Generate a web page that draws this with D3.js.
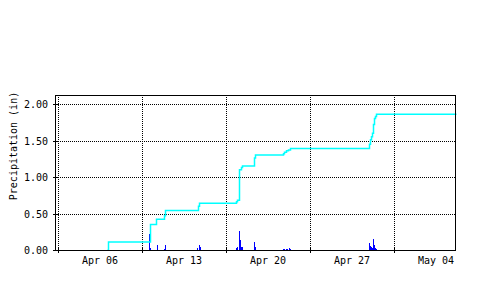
<!DOCTYPE html>
<html>
<head>
<meta charset="utf-8">
<script src="https://cdn.jsdelivr.net/npm/d3@7"></script>
<style>
  body { margin: 0; background: #fff; }
  text { font-family: "DejaVu Sans Mono", monospace; font-size: 10px; fill: #000; }
</style>
</head>
<body>
<div class="chart"></div>
<script>
// hourly (2h bins) precipitation bars, inches
const barTimes = [
    '2014-04-06T16:00', '2014-04-10T02:00', '2014-04-10T04:00', '2014-04-10T18:00',
    '2014-04-11T08:00', '2014-04-11T10:00', '2014-04-14T02:00', '2014-04-14T06:00',
    '2014-04-14T08:00', '2014-04-17T08:00', '2014-04-17T10:00', '2014-04-17T14:00',
    '2014-04-17T16:00', '2014-04-17T18:00', '2014-04-17T20:00', '2014-04-18T20:00',
    '2014-04-18T22:00', '2014-04-21T06:00', '2014-04-21T08:00', '2014-04-21T12:00',
    '2014-04-21T14:00', '2014-04-21T18:00', '2014-04-21T20:00', '2014-04-28T10:00',
    '2014-04-28T12:00', '2014-04-28T14:00', '2014-04-28T16:00', '2014-04-28T18:00',
    '2014-04-28T20:00', '2014-04-28T22:00', '2014-04-29T00:00'
];
const barValues = [
    0.055, 0.22, 0.03, 0.07,
    0.02, 0.07, 0.025, 0.07,
    0.04, 0.03, 0.04, 0.26,
    0.14, 0.045, 0.045, 0.11,
    0.045, 0.02, 0.01, 0.02,
    0.01, 0.03, 0.015, 0.10,
    0.06, 0.045, 0.03, 0.15,
    0.07, 0.03, 0.015
];

// cumulative precipitation, inches
const totalTimes = [
    '2014-04-06T14:00', '2014-04-06T16:00', '2014-04-10T04:00', '2014-04-10T16:00',
    '2014-04-11T08:00', '2014-04-11T10:00', '2014-04-14T04:00', '2014-04-14T06:00',
    '2014-04-17T08:00', '2014-04-17T10:00', '2014-04-17T14:00', '2014-04-17T18:00',
    '2014-04-17T20:00', '2014-04-18T20:00', '2014-04-18T22:00', '2014-04-21T06:00',
    '2014-04-21T08:00', '2014-04-21T12:00', '2014-04-21T16:00', '2014-04-21T20:00',
    '2014-04-28T10:00', '2014-04-28T12:00', '2014-04-28T14:00', '2014-04-28T16:00',
    '2014-04-28T18:00', '2014-04-28T20:00', '2014-04-28T22:00', '2014-04-29T00:00',
    '2014-05-05T16:00'
];
const totalValues = [
    0, 0.11, 0.35, 0.42,
    0.47, 0.54, 0.60, 0.64,
    0.66, 0.68, 1.10, 1.13,
    1.15, 1.26, 1.30, 1.32,
    1.34, 1.36, 1.37, 1.39,
    1.45, 1.51, 1.55, 1.60,
    1.72, 1.80, 1.83, 1.86,
    1.86
];

const xLabels = ['Apr 06', 'Apr 13', 'Apr 20', 'Apr 27', 'May 04'];
const xLabelDates = ['2014-04-06T00:00', '2014-04-13T00:00', '2014-04-20T00:00', '2014-04-27T00:00', '2014-05-04T00:00'];
const yTicks = [0, 0.5, 1.0, 1.5, 2.0];
const timeStart = '2014-04-02T08:00', timeEnd = '2014-05-05T16:00';

const parse = d3.timeParse('%Y-%m-%dT%H:%M');
const bars = barTimes.map((t, i) => ({t: parse(t), v: barValues[i]}));
const totals = totalTimes.map((t, i) => ({t: parse(t), v: totalValues[i]}));

const width = 500, height = 288;
const plot = {left: 56, right: 456, top: 95, bottom: 250};

const svg = d3.select('.chart')
    .append('svg')
    .attr('width', width)
    .attr('height', height);

const xScale = d3.scaleTime()
    .domain([parse(timeStart), parse(timeEnd)])
    .range([plot.left, plot.right]);
const yScale = d3.scaleLinear()
    .domain([0, (plot.bottom - plot.top) / 73])
    .range([plot.bottom, plot.top]);

// grid lines sit half a week before each label
const gridDates = xLabelDates.map(d => d3.timeHour.offset(parse(d), -84));

const grid = svg.append('g')
    .attr('stroke', '#000')
    .attr('stroke-dasharray', '1,1')
    .attr('shape-rendering', 'crispEdges');

grid.selectAll('.hgrid')
    .data(yTicks.filter(d => d > 0))
    .enter()
    .append('line')
    .attr('class', 'hgrid')
    .attr('x1', plot.left)
    .attr('x2', plot.right - 1)
    .attr('y1', d => Math.round(yScale(d)) + 0.5)
    .attr('y2', d => Math.round(yScale(d)) + 0.5);

grid.selectAll('.vgrid')
    .data(gridDates)
    .enter()
    .append('line')
    .attr('class', 'vgrid')
    .attr('x1', d => Math.round(xScale(d)) + 0.5)
    .attr('x2', d => Math.round(xScale(d)) + 0.5)
    .attr('y1', plot.top)
    .attr('y2', plot.bottom);

svg.selectAll('.bar')
    .data(bars)
    .enter()
    .append('rect')
    .attr('class', 'bar')
    .attr('fill', '#0000ff')
    .attr('shape-rendering', 'crispEdges')
    .attr('x', d => xScale(d.t))
    .attr('width', d => xScale(d3.timeHour.offset(d.t, 2)) - xScale(d.t))
    .attr('y', d => yScale(d.v))
    .attr('height', d => plot.bottom - yScale(d.v));

const line = d3.line()
    .x(d => xScale(d.t) + 0.5)
    .y(d => yScale(d.v))
    .curve(d3.curveStepAfter);

svg.append('path')
    .datum(totals)
    .attr('fill', 'none')
    .attr('stroke', '#00ffff')
    .attr('stroke-width', 1.5)
    .attr('d', line);

// frame
const frame = svg.append('g')
    .attr('stroke', '#000')
    .attr('shape-rendering', 'crispEdges');
frame.append('line').attr('x1', plot.left - 1).attr('x2', plot.right).attr('y1', plot.top + 0.5).attr('y2', plot.top + 0.5);
frame.append('line').attr('x1', plot.left - 0.5).attr('x2', plot.left - 0.5).attr('y1', plot.top).attr('y2', plot.bottom);
frame.append('line').attr('x1', plot.right - 0.5).attr('x2', plot.right - 0.5).attr('y1', plot.top).attr('y2', plot.bottom);
frame.append('line').attr('x1', plot.left - 3).attr('x2', plot.right).attr('y1', plot.bottom + 0.5).attr('y2', plot.bottom + 0.5);

frame.selectAll('.ytick')
    .data(yTicks)
    .enter()
    .append('line')
    .attr('x1', plot.left - 3)
    .attr('x2', plot.left + 2)
    .attr('y1', d => Math.round(yScale(d)) + 0.5)
    .attr('y2', d => Math.round(yScale(d)) + 0.5);

frame.selectAll('.xtick')
    .data(gridDates)
    .enter()
    .append('line')
    .attr('x1', d => Math.round(xScale(d)) + 0.5)
    .attr('x2', d => Math.round(xScale(d)) + 0.5)
    .attr('y1', plot.bottom - 2)
    .attr('y2', plot.bottom + 3);

svg.selectAll('.ylabel')
    .data(yTicks)
    .enter()
    .append('text')
    .attr('x', 48)
    .attr('y', d => yScale(d) + 4)
    .attr('text-anchor', 'end')
    .text(d => d3.format('.2f')(d));

svg.selectAll('.xlabel')
    .data(xLabelDates)
    .enter()
    .append('text')
    .attr('x', d => xScale(parse(d)))
    .attr('y', 264)
    .attr('text-anchor', 'middle')
    .text((d, i) => xLabels[i]);

svg.append('text')
    .attr('transform', 'translate(17,146) rotate(-90)')
    .attr('text-anchor', 'middle')
    .text('Precipitation (in)');
</script>
</body>
</html>
